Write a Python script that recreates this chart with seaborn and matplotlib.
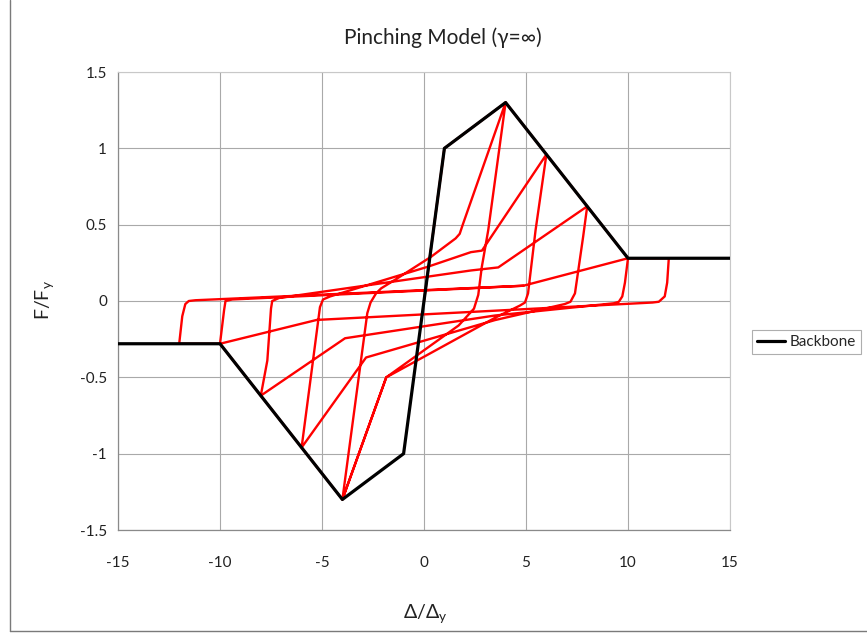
import matplotlib
matplotlib.use("Agg")
import matplotlib.pyplot as plt
import seaborn as sns
from matplotlib.lines import Line2D

# ---------------- data ----------------
backbone_x = [-15, -10, -4, -1, 1, 4, 10, 15]
backbone_y = [-0.28, -0.28, -1.3, -1.0, 1.0, 1.3, 0.28, 0.28]

# hysteresis response path (in loading order)
hyst_x = [0, 1, 4,
          3.15, 2.83, 2.66, 2.45, 1.7, -1.85, -4,
          -3.15, -2.78, -2.62, -2.35, -2.1, -1.3, 0.35, 1.55, 1.75, 1.9, 4, 6,
          5.47, 5.1, 4.95, 4.7, 3.48, 0.07, -1.85, -4, -6,
          -5.5, -5.1, -4.95, -4.6, 0.2, 2.3, 2.84, 6, 8,
          7.8, 7.4, 7.18, 6.9, 3.48, -2.84, -6, -8,
          -7.68, -7.5, -7.44, -7.1, 2.3, 3.64, 8, 10,
          9.85, 9.72, 9.55, 9.3, 3.48, -3.87, -8, -10,
          -9.8, -9.73, -9.4, 2.3, 4.87, 10, 12,
          11.92, 11.8, 11.51, 11.2, -5.26, -10, -12,
          -11.85, -11.7, -11.53, -11.2, 4.87]
hyst_y = [0, 1, 1.3,
          0.465, 0.22, 0.04, -0.05, -0.16, -0.5, -1.3,
          -0.45, -0.08, -0.01, 0.05, 0.083, 0.149, 0.29, 0.41, 0.44, 0.5, 1.3, 0.96,
          0.465, 0.05, -0.01, -0.03, -0.11, -0.36, -0.5, -1.3, -0.96,
          -0.45, -0.04, 0.01, 0.03, 0.225, 0.32, 0.33, 0.96, 0.62,
          0.42, 0.05, -0.005, -0.02, -0.125, -0.37, -0.96, -0.62,
          -0.39, -0.05, 0.0, 0.02, 0.2, 0.22, 0.62, 0.28,
          0.12, 0.03, -0.005, -0.015, -0.095, -0.244, -0.62, -0.28,
          -0.06, 0.0, 0.01, 0.083, 0.1, 0.28, 0.28,
          0.12, 0.03, -0.005, -0.01, -0.124, -0.28, -0.28,
          -0.10, -0.02, 0.0, 0.005, 0.1]

x_ticks = [-15, -10, -5, 0, 5, 10, 15]
x_tick_labels = ["-15", "-10", "-5", "0", "5", "10", "15"]
y_ticks = [-1.5, -1.0, -0.5, 0, 0.5, 1.0, 1.5]
y_tick_labels = ["-1.5", "-1", "-0.5", "0", "0.5", "1", "1.5"]

title_text = "Pinching Model (γ=∞)"
legend_label = "Backbone"

# ---------------- style ----------------
sns.set_theme(style="white")
plt.rcParams["font.family"] = ["Lato", "DejaVu Sans"]
plt.rcParams["mathtext.fontset"] = "custom"
plt.rcParams["mathtext.rm"] = "Lato"

fig = plt.figure(figsize=(8.67, 6.34), dpi=100)
ax = fig.add_axes([118 / 867, 1 - 530 / 634, (730 - 118) / 867, (530 - 72) / 634])

sns.lineplot(x=hyst_x, y=hyst_y, sort=False, estimator=None, color="red",
             linewidth=1.7, ax=ax, legend=False, zorder=3,
             solid_joinstyle="round", solid_capstyle="round")
sns.lineplot(x=backbone_x, y=backbone_y, sort=False, estimator=None, color="black",
             linewidth=2.3, ax=ax, legend=False, zorder=4)

ax.set_xlim(-15, 15)
ax.set_ylim(-1.5, 1.5)
ax.set_xticks(x_ticks)
ax.set_xticklabels(x_tick_labels)
ax.set_yticks(y_ticks)
ax.set_yticklabels(y_tick_labels)
ax.grid(True, color="#a9a9a9", linewidth=0.8)
ax.set_axisbelow(True)
ax.tick_params(axis="x", length=0, pad=19, labelsize=11, colors="#222222")
ax.tick_params(axis="y", length=0, pad=8, labelsize=11, colors="#222222")
for side in ["top", "right"]:
    ax.spines[side].set_color("#c8c8c8")
    ax.spines[side].set_linewidth(0.8)
for side in ["left", "bottom"]:
    ax.spines[side].set_color("#8a8a8a")
    ax.spines[side].set_linewidth(0.9)
ax.set_xlabel("")
ax.set_ylabel("")

fig.text(443 / 867, 1 - 38 / 634, title_text, ha="center", va="center",
         fontsize=15, color="#222222")
fig.text(45 / 867, 1 - 300 / 634, "F/F$_\\mathrm{y}$", ha="center", va="center",
         rotation=90, fontsize=14, color="#222222")
fig.text(425 / 867, 1 - 614 / 634, "Δ/Δ$_\\mathrm{y}$", ha="center", va="center",
         fontsize=14, color="#222222")

handle = Line2D([0], [0], color="black", linewidth=2.3)
leg = ax.legend([handle], [legend_label], loc="center left",
                bbox_to_anchor=(752 / 867, 1 - 342 / 634), bbox_transform=fig.transFigure,
                frameon=True, fancybox=False, fontsize=11, handlelength=1.8,
                handletextpad=0.3, borderpad=0.35, borderaxespad=0)
leg.get_frame().set_edgecolor("#9a9a9a")
leg.get_frame().set_linewidth(0.8)

# outer chart border
fig.add_artist(Line2D([10 / 867, 10 / 867], [0.004, 1.0], transform=fig.transFigure,
                      color="#7a7a7a", linewidth=1.0))
fig.add_artist(Line2D([10 / 867, 1.0], [0.004, 0.004], transform=fig.transFigure,
                      color="#7a7a7a", linewidth=1.0))

fig.savefig("out.png", dpi=100)
